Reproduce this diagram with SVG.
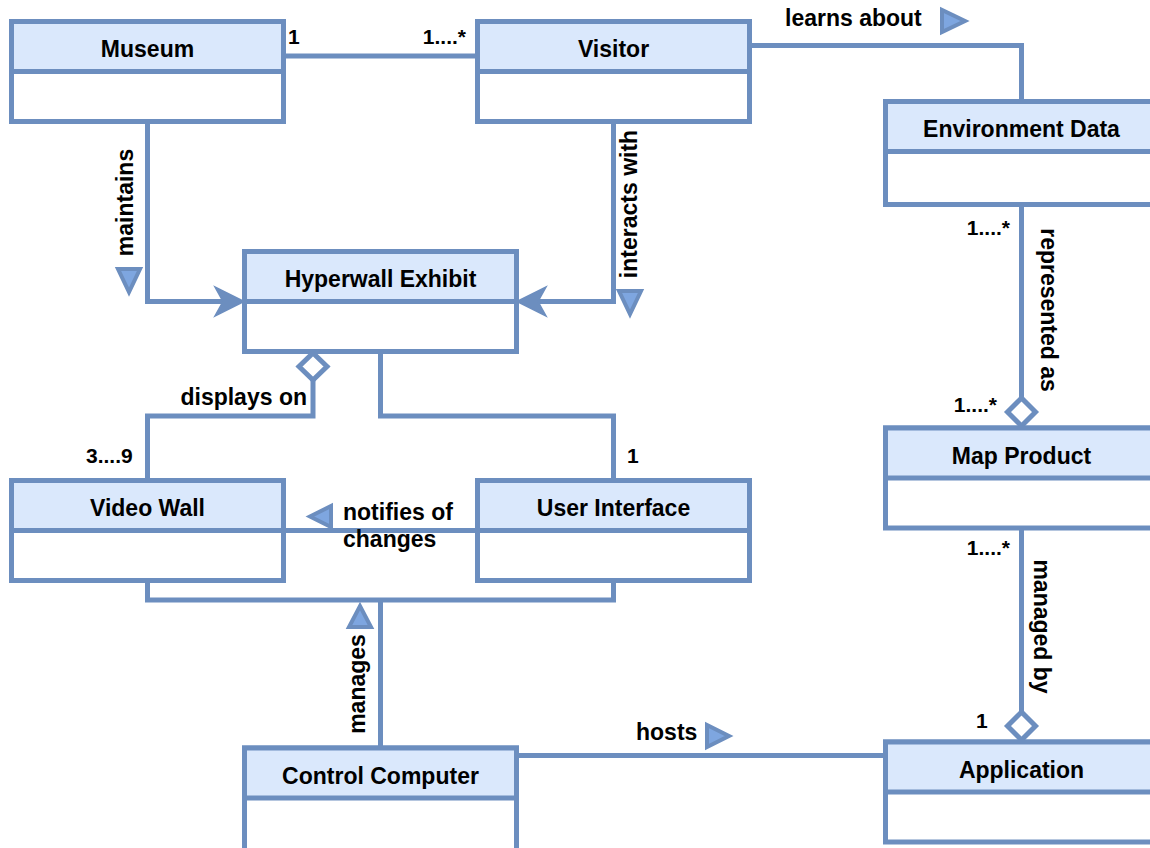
<svg xmlns="http://www.w3.org/2000/svg" width="1150" height="848" viewBox="0 0 1150 848">
<style>
.box{fill:#fff;stroke:#6c8ebf;stroke-width:5}
.hdr{fill:#dae8fc;stroke:#6c8ebf;stroke-width:5}
.t{font-family:"Liberation Sans",Arial,Helvetica,sans-serif;font-weight:bold;font-size:23px;fill:#000}
.m{font-size:21px}
.c{text-anchor:middle}
.e{text-anchor:end}
.ln{fill:none;stroke:#6c8ebf;stroke-width:5}
.tri{fill:#7ea6e0;stroke:#6c8ebf;stroke-width:4;stroke-linejoin:miter}
.dia{fill:#fff;stroke:#6c8ebf;stroke-width:5}
.arr{fill:#6c8ebf;stroke:#6c8ebf;stroke-width:1.5}
</style>
<rect width="1150" height="848" fill="#fff"/>
<g id="connectors">
  <path class="ln" d="M283.5,56 H477.5"/>
  <path class="ln" d="M749.5,45.5 H1021.5 V101.5"/>
  <path class="ln" d="M147.5,121 V301.5 H232"/>
  <path class="ln" d="M613.5,121 V301.5 H530"/>
  <path class="ln" d="M313,380 V416 H147.5 V480.5"/>
  <path class="ln" d="M380.5,351.5 V416 H613.5 V480.5"/>
  <path class="ln" d="M477.5,530.5 H283.5"/>
  <path class="ln" d="M147.5,580.5 V600 H613.5 V580.5"/>
  <path class="ln" d="M380.5,748 V600"/>
  <path class="ln" d="M516.5,755.5 H885.5"/>
  <path class="ln" d="M1021.5,204.5 V398"/>
  <path class="ln" d="M1021.5,528 V712"/>
  <path class="arr" d="M244,301.5 L215,287 L223,301.5 L215,316 Z"/>
  <path class="arr" d="M517,301.5 L546,287 L538,301.5 L546,316 Z"/>
  <path class="dia" d="M313,353 L327,366.5 L313,380 L299,366.5 Z"/>
  <path class="dia" d="M1021.5,426 L1035.5,412 L1021.5,398 L1007.5,412 Z"/>
  <path class="dia" d="M1021.5,740 L1035.5,726 L1021.5,712 L1007.5,726 Z"/>
  <polygon class="tri" points="942,10 942,32 965,21"/>
  <polygon class="tri" points="118,269 140,269 129,292"/>
  <polygon class="tri" points="619,291 641,291 630,314"/>
  <polygon class="tri" points="331,506 331,527 310,516.5"/>
  <polygon class="tri" points="349,627 371,627 360,606"/>
  <polygon class="tri" points="707,725 707,747 729,736"/>
  <text class="t m" x="288" y="44">1</text>
  <text class="t m e" x="466" y="44">1....*</text>
  <text class="t" x="785" y="26">learns about</text>
  <text class="t c" transform="translate(133,202.5) rotate(-90)">maintains</text>
  <text class="t c" transform="translate(637,204) rotate(-90)">interacts with</text>
  <text class="t e" x="307" y="405">displays on</text>
  <text class="t m" x="86" y="463">3....9</text>
  <text class="t m" x="627" y="463">1</text>
  <text class="t" x="343" y="520">notifies of</text>
  <text class="t" x="343" y="547">changes</text>
  <text class="t c" transform="translate(365,684) rotate(-90)">manages</text>
  <text class="t" x="636" y="740">hosts</text>
  <text class="t m e" x="1010" y="235">1....*</text>
  <text class="t c" transform="translate(1040.5,310) rotate(90)">represented as</text>
  <text class="t m e" x="997" y="412">1....*</text>
  <text class="t m e" x="1010" y="555">1....*</text>
  <text class="t c" transform="translate(1034,626.5) rotate(90)">managed by</text>
  <text class="t m" x="976" y="728">1</text>
</g>
<g id="museum">
  <rect class="box" x="11.5" y="21.5" width="272" height="100"/>
  <rect class="hdr" x="11.5" y="21.5" width="272" height="50"/>
  <text class="t c" x="147.5" y="57">Museum</text>
</g>
<g id="visitor">
  <rect class="box" x="477.5" y="21.5" width="272" height="100"/>
  <rect class="hdr" x="477.5" y="21.5" width="272" height="50"/>
  <text class="t c" x="613.5" y="57">Visitor</text>
</g>
<g id="environment-data">
  <rect class="box" x="885.5" y="101.5" width="272" height="103"/>
  <rect class="hdr" x="885.5" y="101.5" width="272" height="50"/>
  <text class="t c" x="1021.5" y="137">Environment Data</text>
</g>
<g id="hyperwall-exhibit">
  <rect class="box" x="244.5" y="251.5" width="272" height="100"/>
  <rect class="hdr" x="244.5" y="251.5" width="272" height="50"/>
  <text class="t c" x="380.5" y="287">Hyperwall Exhibit</text>
</g>
<g id="video-wall">
  <rect class="box" x="11.5" y="480.5" width="272" height="100"/>
  <rect class="hdr" x="11.5" y="480.5" width="272" height="50"/>
  <text class="t c" x="147.5" y="516">Video Wall</text>
</g>
<g id="user-interface">
  <rect class="box" x="477.5" y="480.5" width="272" height="100"/>
  <rect class="hdr" x="477.5" y="480.5" width="272" height="50"/>
  <text class="t c" x="613.5" y="516">User Interface</text>
</g>
<g id="map-product">
  <rect class="box" x="885.5" y="428" width="272" height="100"/>
  <rect class="hdr" x="885.5" y="428" width="272" height="50"/>
  <text class="t c" x="1021.5" y="463.5">Map Product</text>
</g>
<g id="application">
  <rect class="box" x="885.5" y="742" width="272" height="100"/>
  <rect class="hdr" x="885.5" y="742" width="272" height="50"/>
  <text class="t c" x="1021.5" y="777.5">Application</text>
</g>
<g id="control-computer">
  <rect class="box" x="244.5" y="748" width="272" height="104"/>
  <rect class="hdr" x="244.5" y="748" width="272" height="50"/>
  <text class="t c" x="380.5" y="783.5">Control Computer</text>
</g>
</svg>
